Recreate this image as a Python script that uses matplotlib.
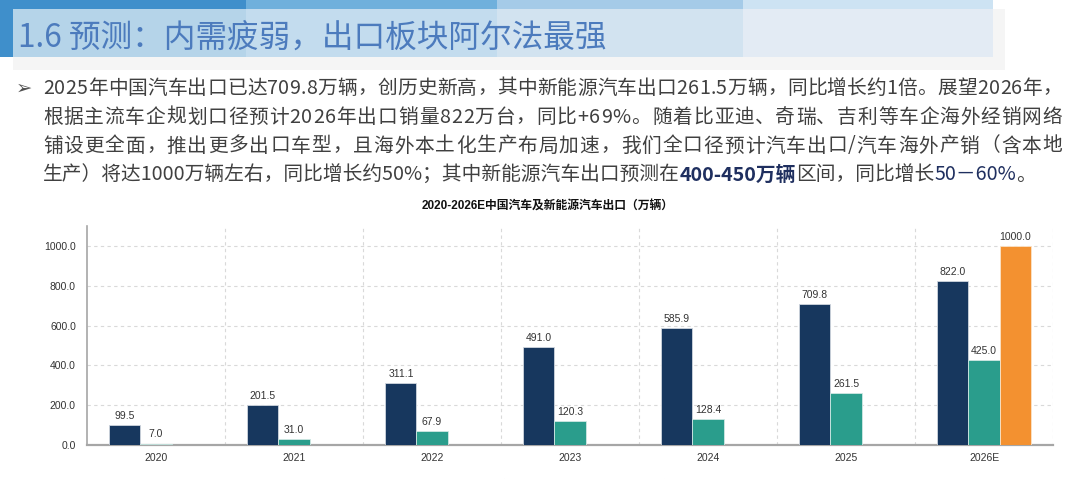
import matplotlib
matplotlib.use('Agg')
import matplotlib.pyplot as plt
import numpy as np
from matplotlib.patches import Rectangle

plt.rcParams['font.family'] = ['Liberation Sans', 'Noto Sans CJK SC', 'DejaVu Sans']

years = ['2020', '2021', '2022', '2023', '2024', '2025', '2026E']
car_export = [99.5, 201.5, 311.1, 491.0, 585.9, 709.8, 822.0]
nev_export = [7.0, 31.0, 67.9, 120.3, 128.4, 261.5, 425.0]
total_forecast = [None, None, None, None, None, None, 1000.0]
series_names = ['汽车出口', '新能源汽车出口', '全口径汽车出口预测']

page_title = '1.6 预测：内需疲弱，出口板块阿尔法最强'
para_lines = [
    '2025年中国汽车出口已达709.8万辆，创历史新高，其中新能源汽车出口261.5万辆，同比增长约1倍。展望2026年，',
    '根据主流车企规划口径预计2026年出口销量822万台，同比+69%。随着比亚迪、奇瑞、吉利等车企海外经销网络',
    '铺设更全面，推出更多出口车型，且海外本土化生产布局加速，我们全口径预计汽车出口/汽车海外产销（含本地',
]
last_line = [
    ('生产）将达1000万辆左右，同比增长约50%；其中新能源汽车出口预测在', 'normal'),
    ('400-450万辆', 'hl'),
    ('区间，同比增长', 'normal'),
    ('50－60%', 'hl2'),
    ('。', 'normal'),
]
chart_title = '2020-2026E中国汽车及新能源汽车出口（万辆）'

W, H = 1080, 479
fig = plt.figure(figsize=(W / 100, H / 100), dpi=100)

# background layer in pixel coords
bg = fig.add_axes([0, 0, 1, 1])
bg.set_xlim(0, W)
bg.set_ylim(H, 0)
bg.axis('off')

bg.add_patch(Rectangle((13, 9), 992, 61, color='#f5f5f5', lw=0))
band = [(13, 246, '#3f8fcb', '#b5d4e9'), (246, 497, '#6fb0dc', '#c3dcee'),
        (497, 743, '#a5cbe8', '#d2e3f0'), (743, 993, '#cde3f3', '#e3ebf4')]
for x0, x1, top_c, low_c in band:
    bg.add_patch(Rectangle((x0, 0), x1 - x0, 9, color=top_c, lw=0))
    bg.add_patch(Rectangle((x0, 9), x1 - x0, 48, color=low_c, lw=0))
bg.add_patch(Rectangle((0, 0), 13, 57, color='#3f8fcb', lw=0))
bg.text(18, 38, page_title, fontsize=22.8, color='#4c7bbd', va='center', ha='left',
        family=['Noto Sans CJK SC', 'DejaVu Sans'])

bg.text(24, 88, '➢', fontsize=14, color='#505050', va='center', ha='center', family='DejaVu Sans')
para_font = ['Noto Sans CJK SC', 'DejaVu Sans']
fs = 14.2
line_y = [88, 117, 146, 175]
right_edge = 1062

# justified lines: chars chained, gaps fixed after measuring
rows = []
for y, line in zip(line_y, para_lines):
    chars = []
    prev = None
    for ch in line:
        if prev is None:
            prev = bg.text(43, y, ch, fontsize=fs, color='#404040', va='center', ha='left', family=para_font)
        else:
            prev = bg.annotate(ch, xy=(1, 0.5), xycoords=prev, xytext=(0, 0), textcoords='offset pixels',
                               va='center', ha='left', fontsize=fs, color='#404040', family=para_font)
        chars.append(prev)
    rows.append(chars)

prev = None
for txt, kind in last_line:
    color = '#404040' if kind == 'normal' else '#1f2f5f'
    weight = 'bold' if kind == 'hl' else 'normal'
    if prev is None:
        prev = bg.text(43, line_y[3], txt, fontsize=fs, color=color, va='center', ha='left',
                       family=para_font, fontweight=weight)
    else:
        prev = bg.annotate(txt, xy=(1, 0.5), xycoords=prev, va='center', ha='left',
                           fontsize=fs, color=color, family=para_font, fontweight=weight)

# chart
ax = fig.add_axes([87 / W, 34 / H, 966 / W, 219 / H])
x = np.arange(len(years))
w = 0.225
b1 = ax.bar(x - w, car_export, w, color='#17375e', edgecolor='#d0d6de', linewidth=0.6, label=series_names[0], zorder=3)
b2 = ax.bar(x, nev_export, w, color='#2a9d8c', edgecolor='#d0e8e4', linewidth=0.6, label=series_names[1], zorder=3)
idx = [i for i, v in enumerate(total_forecast) if v is not None]
b3 = ax.bar(x[idx] + w, [total_forecast[i] for i in idx], w, color='#f39130', edgecolor='#fbe3c8',
            linewidth=0.6, label=series_names[2], zorder=3)
for b in (b1, b2, b3):
    ax.bar_label(b, fmt='%.1f', padding=3, fontsize=7.5, color='#333333')

ax.set_xlim(-0.5, 6.5)
ax.set_ylim(0, 1100)
ax.set_yticks(np.arange(0, 1001, 200))
ax.set_yticklabels(['%.1f' % v for v in np.arange(0, 1001, 200)])
ax.set_xticks(x)
ax.set_xticklabels(years)
ax.set_xticks(np.arange(0.5, 7, 1), minor=True)
ax.tick_params(axis='both', which='both', length=0, labelsize=7.5, colors='#333333')
ax.tick_params(axis='y', pad=8)
ax.tick_params(axis='x', pad=6)
ax.grid(axis='y', which='major', color='#d9d9d9', linestyle=(0, (3, 3)), linewidth=0.8, zorder=0)
ax.grid(axis='x', which='minor', color='#d9d9d9', linestyle=(0, (3, 3)), linewidth=0.8, zorder=0)
for s in ('top', 'right'):
    ax.spines[s].set_visible(False)
ax.spines['left'].set_color('#a6a6a6')
ax.spines['left'].set_linewidth(1.2)
ax.spines['bottom'].set_color('#a6a6a6')
ax.spines['bottom'].set_linewidth(1.6)
ax.set_facecolor('none')

fig.text(548 / W, 1 - 207 / H, chart_title, fontsize=8.5, fontweight='bold', color='#111111',
         ha='center', va='center')

fig.legend(handles=[b1, b2, b3], labels=series_names, loc='upper center', bbox_to_anchor=(549 / W, 4 / H),
           ncol=3, frameon=False, fontsize=7.5, handlelength=0.8, handleheight=0.8, handletextpad=0.3,
           columnspacing=0.4, borderpad=0)

# measure and spread the justified lines
fig.canvas.draw()
renderer = fig.canvas.get_renderer()
for chars in rows:
    end = chars[-1].get_window_extent(renderer).x1
    gap = (right_edge - end) / (len(chars) - 1)
    for c in chars[1:]:
        c.xyann = (gap, 0)

fig.savefig('out.png', dpi=100)
